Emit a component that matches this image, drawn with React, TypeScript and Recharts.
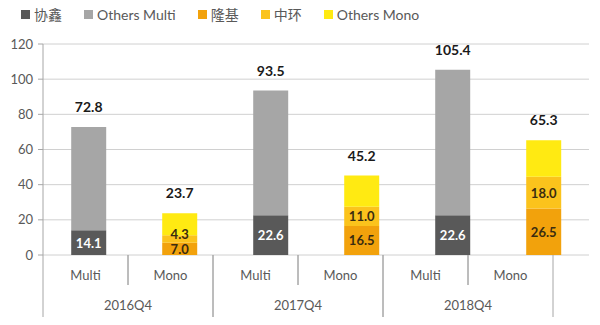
import React from 'react';
import { BarChart, Bar, XAxis, YAxis, CartesianGrid, LabelList } from 'recharts';

const categories = ['Multi', 'Mono', 'Multi', 'Mono', 'Multi', 'Mono'];
const years = ['2016Q4', '2016Q4', '2017Q4', '2017Q4', '2018Q4', '2018Q4'];
const gcl = [14.1, null, 22.6, null, 22.6, null];
const othersMulti = [58.7, null, 70.9, null, 82.8, null];
const longi = [null, 7.0, null, 16.5, null, 26.5];
const zhonghuan = [null, 4.3, null, 11.0, null, 18.0];
const othersMono = [null, 12.4, null, 17.7, null, 20.8];
const totalMulti = [72.8, null, 93.5, null, 105.4, null];
const totalMono = [null, 23.7, null, 45.2, null, 65.3];
const yTicks = [0, 20, 40, 60, 80, 100, 120];

const seriesNames = ['协鑫', 'Others Multi', '隆基', '中环', 'Others Mono'];
const seriesColors = ['#595959', '#a6a6a6', '#f2a20c', '#fbc31c', '#ffea12'];

const data = categories.map((c, i) => ({
  cat: c,
  year: years[i],
  gcl: gcl[i],
  othersMulti: othersMulti[i],
  longi: longi[i],
  zhonghuan: zhonghuan[i],
  othersMono: othersMono[i],
  totalMulti: totalMulti[i],
  totalMono: totalMono[i],
}));

const FONT = "Lato, 'Noto Sans CJK SC', sans-serif";
const TEXT = '#595959';
const LINE = '#a6a6a6';

const SegLabel = (color: string, liftSmall: boolean) => (props: any) => {
  const { x, y, width, height, value } = props;
  if (value === null || value === undefined || value === 0) return null;
  const lift = liftSmall && height < 18 ? (18 - height) / 2 : 0;
  return (
    <text x={x + width / 2} y={y + height / 2 - lift} dy={5} textAnchor="middle" fill={color}
      fontFamily={FONT} fontWeight={700} fontSize={13}>
      {Number(value).toFixed(1)}
    </text>
  );
};

const TotalLabel = (props: any) => {
  const { x, y, width, value } = props;
  if (value === null || value === undefined) return null;
  return (
    <text x={x + width / 2} y={y - 15} textAnchor="middle" fill="#1a1a1a"
      fontFamily={FONT} fontWeight={700} fontSize={14}>
      {Number(value).toFixed(1)}
    </text>
  );
};

const INNER_H = 30;
const YEAR_H = 32;

const InnerTick = (props: any) => {
  const { x, y, payload } = props;
  const off = payload && payload.offset ? payload.offset : 42.5;
  return (
    <g>
      <line x1={x - off} x2={x - off} y1={y} y2={y + INNER_H} stroke={LINE} />
      <line x1={x + off} x2={x + off} y1={y} y2={y + INNER_H} stroke={LINE} />
      <text x={x} y={y + 20} dy={5} textAnchor="middle" fill={TEXT} fontFamily={FONT} fontSize={13}>
        {payload.value}
      </text>
    </g>
  );
};

const YearTick = (props: any) => {
  const { x, y, payload } = props;
  const off = payload && payload.offset ? payload.offset : 85;
  return (
    <g>
      <line x1={x - off} x2={x - off} y1={y} y2={y + YEAR_H} stroke={LINE} />
      <line x1={x + off} x2={x + off} y1={y} y2={y + YEAR_H} stroke={LINE} />
      <text x={x} y={y + 20} dy={5} textAnchor="middle" fill={TEXT} fontFamily={FONT} fontSize={13}>
        {payload.value}
      </text>
    </g>
  );
};

const Legend = () => (
  <div style={{ position: 'absolute', left: 21, top: 4, display: 'flex', alignItems: 'center',
    fontFamily: FONT, fontSize: 14, color: TEXT, whiteSpace: 'nowrap' }}>
    {seriesNames.map((n, i) => (
      <div key={n} style={{ display: 'flex', alignItems: 'center', marginRight: 22 }}>
        <span style={{ display: 'inline-block', width: 9, height: 9, background: seriesColors[i], marginRight: 4 }} />
        <span>{n}</span>
      </div>
    ))}
  </div>
);

export default function App() {
  return (
    <div style={{ position: 'absolute', left: 0, top: 0, width: 600, height: 325, background: '#fff' }}>
      <Legend />
      <BarChart width={600} height={325} data={data}
        margin={{ top: 44, right: 11, left: 0, bottom: 8 }} barCategoryGap="31%">
        <CartesianGrid vertical={false} stroke="#d0d0d0" yAxisId="v" xAxisId="b" />
        <XAxis xAxisId="b" dataKey="cat" hide height={0} />
        <XAxis xAxisId="a" dataKey="cat" height={INNER_H} axisLine={false} tickLine={false}
          tickSize={0} tickMargin={0} padding={{ left: 0, right: 36 }} interval={0} tick={<InnerTick />} />
        <XAxis xAxisId="y" dataKey="year" allowDuplicatedCategory={false} height={YEAR_H} axisLine={false}
          tickLine={false} tickSize={0} tickMargin={0} padding={{ left: 0, right: 36 }} interval={0} tick={<YearTick />} />
        <YAxis yAxisId="v" width={43} domain={[0, 120]} ticks={yTicks} stroke={LINE} tickSize={5} tickMargin={5}
          tick={{ fill: TEXT, fontFamily: FONT, fontSize: 13 }} />
        <Bar xAxisId="b" yAxisId="v" dataKey="gcl" name={seriesNames[0]} stackId="s" fill={seriesColors[0]} isAnimationActive={false}>
          <LabelList dataKey="gcl" content={SegLabel('#ffffff', false)} />
        </Bar>
        <Bar xAxisId="b" yAxisId="v" dataKey="othersMulti" name={seriesNames[1]} stackId="s" fill={seriesColors[1]} isAnimationActive={false}>
          <LabelList dataKey="totalMulti" content={TotalLabel} />
        </Bar>
        <Bar xAxisId="b" yAxisId="v" dataKey="longi" name={seriesNames[2]} stackId="s" fill={seriesColors[2]} isAnimationActive={false}>
          <LabelList dataKey="longi" content={SegLabel('#3a2c10', false)} />
        </Bar>
        <Bar xAxisId="b" yAxisId="v" dataKey="zhonghuan" name={seriesNames[3]} stackId="s" fill={seriesColors[3]} isAnimationActive={false}>
          <LabelList dataKey="zhonghuan" content={SegLabel('#3a2c10', true)} />
        </Bar>
        <Bar xAxisId="b" yAxisId="v" dataKey="othersMono" name={seriesNames[4]} stackId="s" fill={seriesColors[4]} isAnimationActive={false}>
          <LabelList dataKey="totalMono" content={TotalLabel} />
        </Bar>
      </BarChart>
    </div>
  );
}
